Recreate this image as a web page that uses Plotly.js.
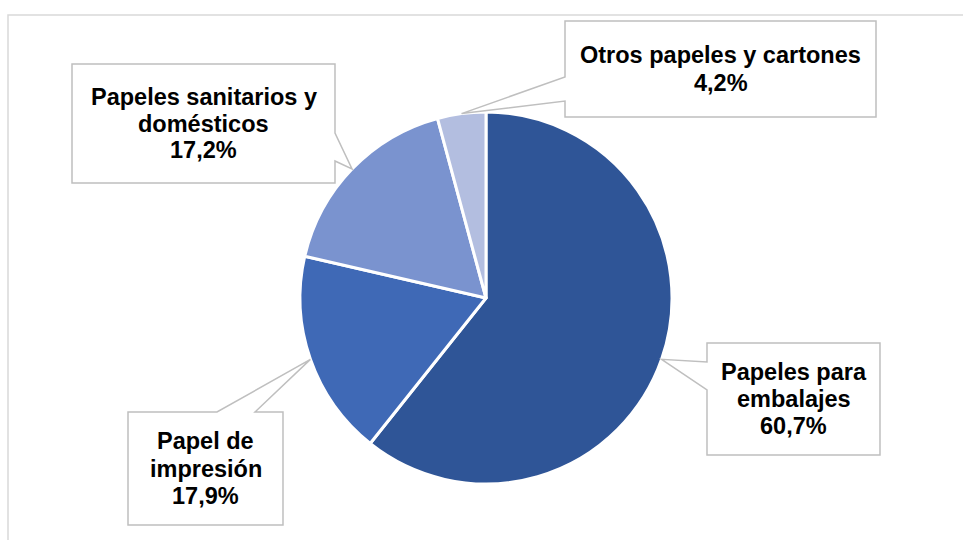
<!DOCTYPE html>
<html>
<head>
<meta charset="utf-8">
<script src="https://cdn.plot.ly/plotly-3.0.1.min.js"></script>
<style>html,body{margin:0;padding:0;background:#fff;}#chart{width:963px;height:540px;}</style>
</head>
<body>
<div id="chart"></div>
<script>
// Data
const categories = ["Papeles para embalajes", "Papel de impresión", "Papeles sanitarios y domésticos", "Otros papeles y cartones"];
const labelLines = [["Papeles para", "embalajes"], ["Papel de", "impresión"], ["Papeles sanitarios y", "domésticos"], ["Otros papeles y cartones"]];
const values = [60.7, 17.9, 17.2, 4.2];
const colors = ["#2F5597", "#3F69B6", "#7A93CF", "#B3BEE0"];

// Layout geometry (pixels)
const W = 963, H = 540;
const cx = 486, cy = 298, R = 186;
const px = x => x / W;
const py = y => 1 - y / H;
const LINE = 27;

// callout boxes: [left, top, right, bottom], side where pointer attaches, base span along side
const boxes = [
  {l: 707, t: 343, r: 880, b: 455, side: "left", s0: 362, s1: 390},
  {l: 128, t: 412, r: 283, b: 525, side: "top", s0: 217, s1: 255},
  {l: 72, t: 64, r: 335, b: 183, side: "right", s0: 133, s1: 161},
  {l: 565, t: 21, r: 876, b: 117, side: "left", s0: 77, s1: 101}
];

// tip positions computed from data (slice mid-angle on pie edge, clockwise from top)
const total = values.reduce((a, b) => a + b, 0);
let cum = 0;
const tips = values.map(v => {
  const mid = (cum + v / 2) / total * 2 * Math.PI;
  cum += v;
  return [cx + R * Math.sin(mid), cy - R * Math.cos(mid)];
});

function P(x, y) { return px(x).toFixed(5) + "," + py(y).toFixed(5); }

const shapes = [];
// outer frame
shapes.push({type: "rect", xref: "paper", yref: "paper", x0: px(8), x1: 1.2, y0: -0.2, y1: py(15),
  line: {color: "#D9D9D9", width: 1.5}, fillcolor: "rgba(0,0,0,0)", layer: "below"});

boxes.forEach((bx, i) => {
  const [tx, ty] = tips[i];
  let pts;
  if (bx.side === "left") {
    pts = [[bx.l, bx.t], [bx.r, bx.t], [bx.r, bx.b], [bx.l, bx.b], [bx.l, bx.s1], [tx, ty], [bx.l, bx.s0]];
  } else if (bx.side === "right") {
    pts = [[bx.l, bx.t], [bx.r, bx.t], [bx.r, bx.s0], [tx, ty], [bx.r, bx.s1], [bx.r, bx.b], [bx.l, bx.b]];
  } else { // top
    pts = [[bx.l, bx.t], [bx.s0, bx.t], [tx, ty], [bx.s1, bx.t], [bx.r, bx.t], [bx.r, bx.b], [bx.l, bx.b]];
  }
  const path = "M" + pts.map(p => P(p[0], p[1])).join(" L") + " Z";
  shapes.push({type: "path", xref: "paper", yref: "paper", path: path,
    line: {color: "#BFBFBF", width: 1.5}, fillcolor: "#FFFFFF", layer: "above"});
});

const annotations = [];
boxes.forEach((bx, i) => {
  const lines = labelLines[i].concat([values[i].toFixed(1).replace(".", ",") + "%"]);
  const n = lines.length;
  const ccy = (bx.t + bx.b) / 2;
  lines.forEach((ln, k) => {
    annotations.push({
      xref: "paper", yref: "paper",
      x: px((bx.l + bx.r) / 2), y: py(ccy + (k - (n - 1) / 2) * LINE),
      xanchor: "center", yanchor: "middle", showarrow: false, align: "center",
      text: "<b>" + ln + "</b>",
      font: {family: "Liberation Sans, Arial, sans-serif", size: 23.5, color: "#000000"}
    });
  });
});

const trace = {
  type: "pie",
  labels: categories,
  values: values,
  sort: false,
  direction: "clockwise",
  rotation: 0,
  textinfo: "none",
  hoverinfo: "label+percent",
  marker: {colors: colors, line: {color: "#FFFFFF", width: 3}},
  domain: {x: [px(cx - R), px(cx + R)], y: [py(cy + R), py(cy - R)]},
  showlegend: false
};

const layout = {
  width: W, height: H,
  margin: {l: 0, r: 0, t: 0, b: 0},
  paper_bgcolor: "#FFFFFF",
  plot_bgcolor: "#FFFFFF",
  showlegend: false,
  shapes: shapes,
  annotations: annotations
};

Plotly.newPlot("chart", [trace], layout, {displayModeBar: false, staticPlot: true});
</script>
</body>
</html>
